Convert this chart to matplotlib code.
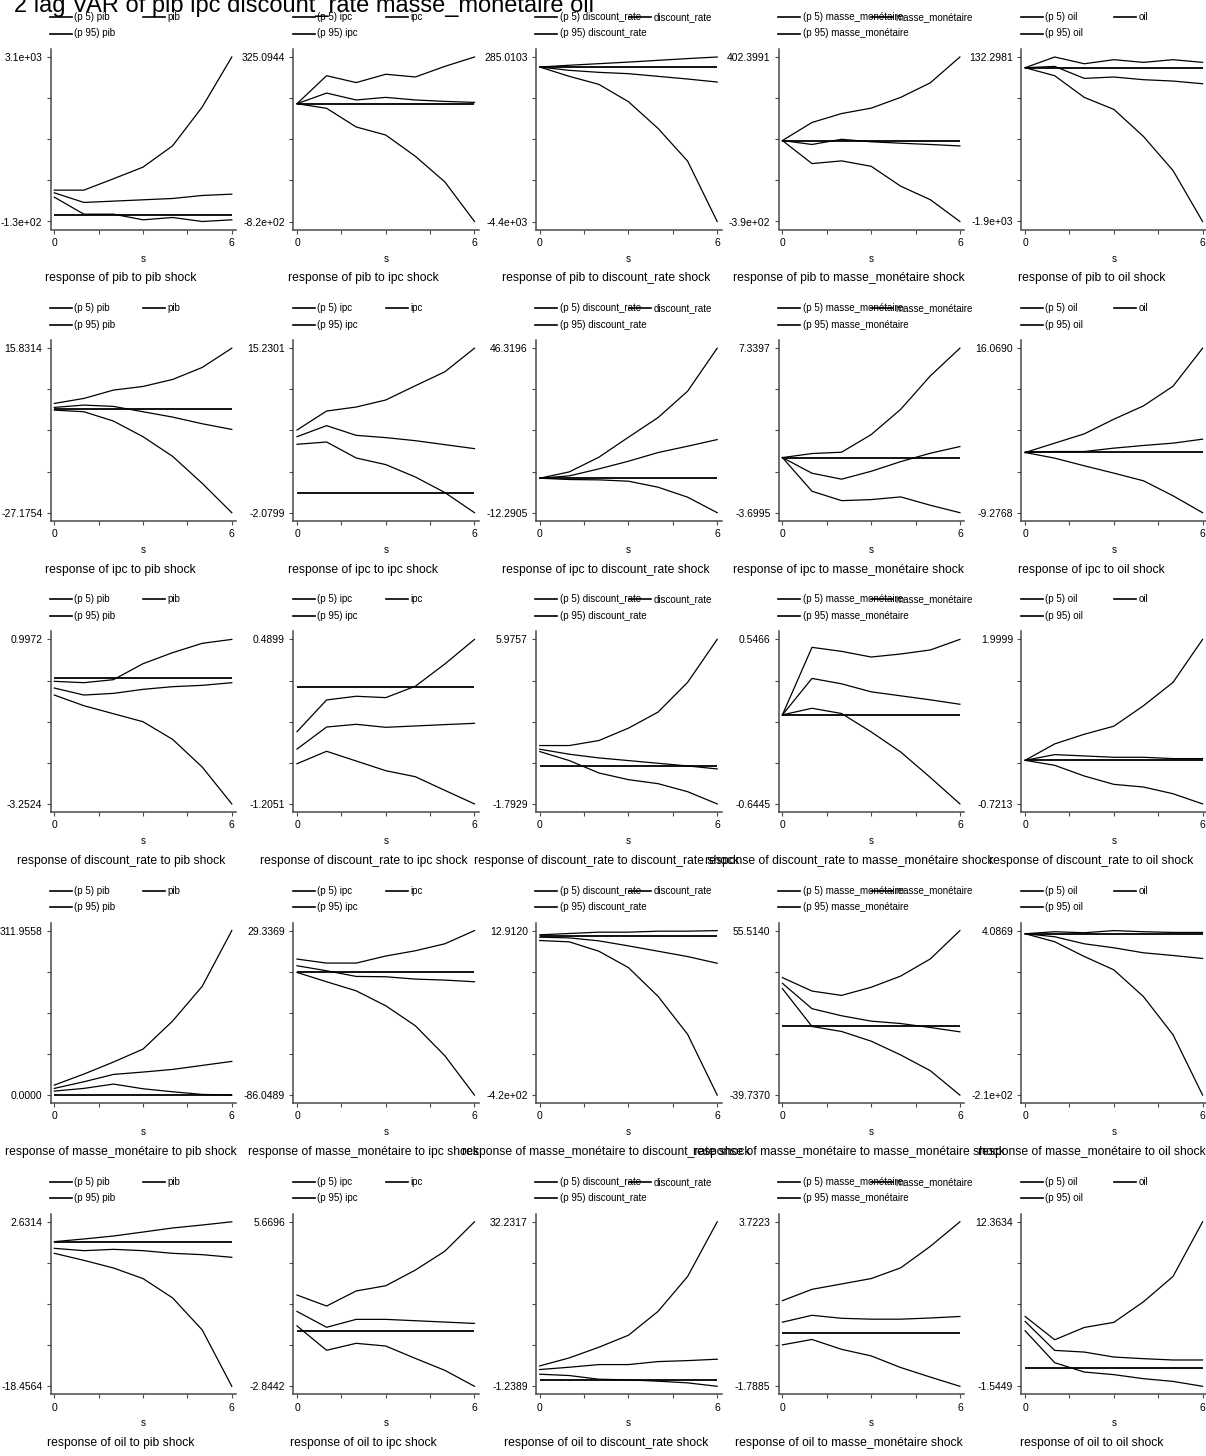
import numpy as np
import matplotlib
matplotlib.use('Agg')
import matplotlib.pyplot as plt
from matplotlib.lines import Line2D

plt.rcParams['font.family'] = ['Liberation Sans', 'DejaVu Sans']

# horizon steps and variables (rows = response, columns = impulse)
steps = [0, 1, 2, 3, 4, 5, 6]
variables = ['pib', 'ipc', 'discount_rate', 'masse_monétaire', 'oil']

# response of pib (one row per impulse: pib, ipc, discount_rate, masse_monétaire, oil)
pib_p95 = [[486, 486, 709, 938, 1357, 2118, 3100],
           [0, 195, 147, 205, 186, 260, 325.0944],
           [0, 50, 95, 140, 190, 240, 285.0103],
           [0, 87, 130, 156, 208, 278, 402.3991],
           [0, 132.2981, 49, 99, 66, 99, 66]]
pib_irf = [[433, 244, 270, 296, 322, 381, 407],
           [0, 74, 26, 44, 26, 16, 9],
           [0, -95, -152, -190, -266, -342, -428],
           [0, -19, 6, -6, -13, -19, -26],
           [0, 16, -132, -115, -148, -165, -198]]
pib_p5 = [[348, 14, 14, -97, -51, -130, -97],
          [0, -32, -162, -218, -366, -545, -820],
          [0, -266, -494, -988, -1749, -2680, -4400],
          [0, -111, -98, -124, -220, -285, -390],
          [0, -99, -367, -515, -849, -1270, -1900]]

# response of ipc
ipc_p95 = [[1.39, 2.70, 4.88, 5.83, 7.66, 10.8, 15.8314],
           [6.62, 8.62, 9.04, 9.78, 11.28, 12.75, 15.2301],
           [0, 2.25, 7.48, 14.6, 21.6, 31.0, 46.3196],
           [0, 0.27, 0.36, 1.54, 3.24, 5.48, 7.3397],
           [0, 1.44, 2.87, 5.13, 7.18, 10.21, 16.0690]]
ipc_irf = [[0.35, 0.96, 0.61, -0.78, -2.18, -3.92, -5.40],
           [5.92, 7.08, 6.06, 5.82, 5.50, 5.08, 4.66],
           [0, 0.83, 3.32, 6.05, 9.14, 11.4, 13.76],
           [0, -1.05, -1.45, -0.92, -0.27, 0.29, 0.74],
           [0, 0.15, 0.15, 0.67, 1.08, 1.44, 2.05]]
ipc_p5 = [[-0.35, -0.78, -3.22, -7.31, -12.45, -19.5, -27.1754],
          [5.12, 5.36, 3.68, 2.98, 1.68, 0.04, -2.0799],
          [0, -0.47, -0.59, -1.07, -3.2, -6.76, -12.2905],
          [0, -2.26, -2.89, -2.82, -2.64, -3.20, -3.6995],
          [0, -0.87, -2.05, -3.18, -4.36, -6.67, -9.2768]]

# response of discount_rate
dr_p95 = [[-0.086, -0.121, -0.043, 0.37, 0.655, 0.896, 0.9972],
          [-0.461, -0.134, -0.096, -0.110, 0.007, 0.237, 0.4899],
          [0.963, 0.963, 1.2, 1.784, 2.542, 3.948, 5.9757],
          [0, 0.489, 0.460, 0.419, 0.441, 0.470, 0.5466],
          [0, 0.271, 0.431, 0.564, 0.902, 1.289, 1.9999]]
dr_irf = [[-0.259, -0.44, -0.397, -0.293, -0.224, -0.19, -0.121],
          [-0.640, -0.413, -0.385, -0.416, -0.402, -0.388, -0.375],
          [0.790, 0.553, 0.379, 0.253, 0.126, 0.0, -0.142],
          [0, 0.264, 0.225, 0.167, 0.138, 0.109, 0.077],
          [0, 0.094, 0.072, 0.050, 0.050, 0.028, 0.028]]
dr_p5 = [[-0.44, -0.716, -0.923, -1.13, -1.586, -2.3, -3.2524],
         [-0.791, -0.663, -0.763, -0.863, -0.925, -1.066, -1.2051],
         [0.679, 0.253, -0.332, -0.648, -0.837, -1.216, -1.7929],
         [0, 0.048, 0.010, -0.123, -0.269, -0.453, -0.6445],
         [0, -0.083, -0.260, -0.398, -0.442, -0.553, -0.7213]]

# response of masse_monétaire
mm_p95 = [[19.0, 39.9, 62.7, 87.3, 140.5, 206.3, 311.9558],
          [9.36, 6.55, 6.55, 11.5, 15.2, 20.1, 29.3369],
          [1.76, 5.3, 8.8, 8.8, 11.4, 11.4, 12.9120],
          [28.3, 20.5, 18.0, 22.7, 29.2, 39.1, 55.5140],
          [0, 2.6, 1.3, 4.0869, 2.6, 1.7, 1.7]]
mm_irf = [[12.7, 25.3, 39.2, 43.7, 48.7, 56.3, 63.9],
          [4.68, 1.17, -2.81, -3.04, -4.68, -5.38, -6.55],
          [-4.4, -6.2, -14.1, -27.3, -41.3, -55.4, -73.0],
          [25.0, 10.3, 6.2, 3.1, 1.7, -0.6, -3.1],
          [0, -3.9, -13.1, -18.3, -24.8, -28.3, -32.2]]
mm_p5 = [[7.6, 12.7, 20.9, 12.0, 6.3, 1.3, 0.0],
         [0, -6.55, -12.9, -23.4, -37.4, -58.5, -86.0489],
         [-13.2, -16.7, -41.4, -84.5, -160, -260, -420],
         [21.9, 0, -2.9, -8.5, -16.5, -25.6, -39.7370],
         [0, -10.4, -29.6, -47.0, -81.8, -131.4, -210]]

# response of oil
oil_p95 = [[0.085, 0.43, 0.81, 1.32, 1.84, 2.22, 2.6314],
           [1.88, 1.31, 2.09, 2.36, 3.17, 4.15, 5.6696],
           [2.91, 4.54, 6.71, 9.15, 14.0, 21.1, 32.2317],
           [1.08, 1.46, 1.64, 1.82, 2.18, 2.90, 3.7223],
           [4.36, 2.39, 3.43, 3.86, 5.60, 7.74, 12.3634]]
oil_irf = [[-0.77, -1.07, -0.90, -1.07, -1.41, -1.58, -1.92],
           [1.03, 0.21, 0.62, 0.62, 0.55, 0.48, 0.41],
           [2.17, 2.64, 3.18, 3.18, 3.79, 3.99, 4.27],
           [0.36, 0.59, 0.49, 0.46, 0.46, 0.50, 0.55],
           [3.94, 1.49, 1.35, 0.93, 0.79, 0.68, 0.68]]
oil_p5 = [[-1.41, -2.31, -3.29, -4.65, -7.13, -11.23, -18.4564],
          [0.28, -0.98, -0.62, -0.76, -1.40, -2.02, -2.8442],
          [1.22, 0.95, 0.20, 0.07, -0.20, -0.54, -1.2389],
          [-0.40, -0.22, -0.55, -0.77, -1.16, -1.48, -1.7885],
          [3.15, 0.45, -0.34, -0.56, -0.90, -1.13, -1.5449]]

# y axis labels (top / bottom) as printed
ymax_labels = [['3.1e+03', '325.0944', '285.0103', '402.3991', '132.2981'],
               ['15.8314', '15.2301', '46.3196', '7.3397', '16.0690'],
               ['0.9972', '0.4899', '5.9757', '0.5466', '1.9999'],
               ['311.9558', '29.3369', '12.9120', '55.5140', '4.0869'],
               ['2.6314', '5.6696', '32.2317', '3.7223', '12.3634']]
ymin_labels = [['-1.3e+02', '-8.2e+02', '-4.4e+03', '-3.9e+02', '-1.9e+03'],
               ['-27.1754', '-2.0799', '-12.2905', '-3.6995', '-9.2768'],
               ['-3.2524', '-1.2051', '-1.7929', '-0.6445', '-0.7213'],
               ['0.0000', '-86.0489', '-4.2e+02', '-39.7370', '-2.1e+02'],
               ['-18.4564', '-2.8442', '-1.2389', '-1.7885', '-1.5449']]

p95 = [pib_p95, ipc_p95, dr_p95, mm_p95, oil_p95]
irf = [pib_irf, ipc_irf, dr_irf, mm_irf, oil_irf]
p5 = [pib_p5, ipc_p5, dr_p5, mm_p5, oil_p5]

W, H = 1206, 1456
fig = plt.figure(figsize=(W / 100, H / 100), dpi=100)
fig.patch.set_facecolor('white')


def fx(x):
    return x / W


def fy(y):
    return 1 - y / H


axcol = '#4a4a4a'
for r in range(5):
    for c in range(5):
        x0 = 54.3 + 242.7 * c
        x6 = x0 + 177.5
        ytop = 57 + 291.2 * r
        ybot = ytop + 164.5
        ax = fig.add_axes([fx(x0 - 3.6), fy(ybot + 8), (x6 - x0 + 8) / W, (ybot - ytop + 16) / H])
        imp = variables[c]

        ax.plot(steps, p5[r][c], color='black', lw=0.9)
        ax.plot(steps, irf[r][c], color='black', lw=0.9)
        ax.plot(steps, p95[r][c], color='black', lw=0.9)
        ax.hlines(0, steps[0], steps[-1], color='black', lw=1.3)

        hi = float(ymax_labels[r][c])
        lo = float(ymin_labels[r][c])
        pad = (hi - lo) * 8 / 164.5
        ax.set_ylim(lo - pad, hi + pad)
        ax.set_xlim(-0.122, 6.149)
        ax.set_yticks(np.linspace(lo, hi, 5))
        ax.set_yticklabels([ymin_labels[r][c], '', '', '', ymax_labels[r][c]])
        ax.set_xticks([0, 1.5, 3, 4.5, 6])
        ax.set_xticklabels(['0', '', '', '', '6'])
        for s in ['top', 'right']:
            ax.spines[s].set_visible(False)
        for s in ['left', 'bottom']:
            ax.spines[s].set_color(axcol)
            ax.spines[s].set_linewidth(1.1)
        ax.tick_params(axis='both', length=3, width=0.8, color=axcol, labelsize=7.5, pad=3)
        ax.set_facecolor('white')

        # legend: (p 5) imp | imp / (p 95) imp
        ly1 = ytop - 40
        ly2 = ytop - 23.5
        for (lx, ly, lab) in [(x0 - 4.3, ly1, '(p 5) ' + imp),
                              (x0 + 89, ly1, imp),
                              (x0 - 4.3, ly2, '(p 95) ' + imp)]:
            fig.add_artist(Line2D([fx(lx), fx(lx + 22)], [fy(ly), fy(ly)],
                                  transform=fig.transFigure, color='black', lw=1.2))
            fig.text(fx(lx + 24.5), fy(ly), lab, fontsize=7, va='center', ha='left')

        fig.text(fx((x0 + x6) / 2), fy(ybot + 37), 's', fontsize=7, ha='center', va='center')
        fig.text(fx(120.7 + 242.7 * c), fy(ybot + 57),
                 'response of %s to %s shock' % (variables[r], imp),
                 fontsize=8.7, ha='center', va='center')

fig.text(fx(14), fy(12), '2 lag VAR of pib ipc discount_rate masse_monétaire oil',
         fontsize=17, ha='left', va='baseline')

fig.savefig('out.png', dpi=100, facecolor='white')
